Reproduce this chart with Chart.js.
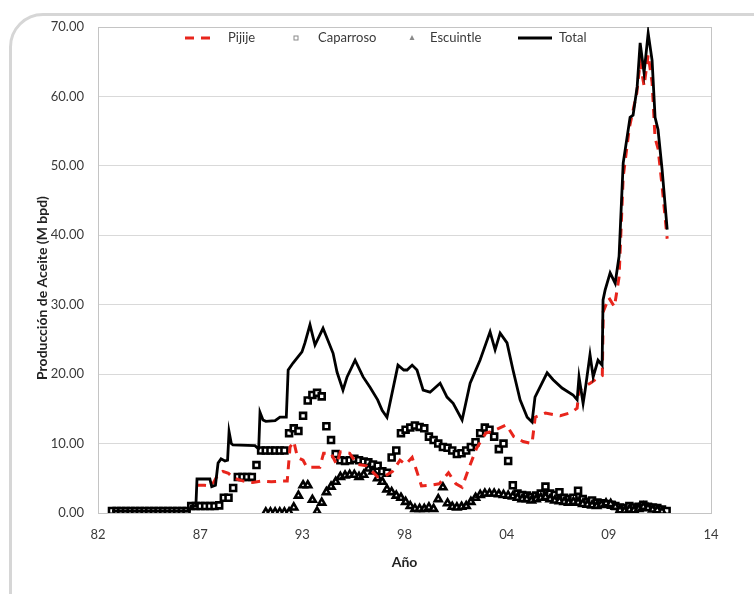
<!DOCTYPE html>
<html>
<head>
<meta charset="utf-8">
<script src="https://cdn.jsdelivr.net/npm/chart.js@4.4.1/dist/chart.umd.min.js"></script>
<style>
  html, body { margin: 0; padding: 0; background: #fff; overflow: hidden; }
  #wrap { position: relative; width: 754px; height: 594px; overflow: hidden; }
  #frame { position: absolute; left: 9px; top: 13px; width: 800px; height: 700px;
           border: 3px solid #d6d6d6; border-radius: 34px; box-sizing: border-box; }
  canvas { position: absolute; left: 0; top: 0; }
</style>
</head>
<body>
<div id="wrap">
  <div id="frame"></div>
  <canvas id="c" width="754" height="594"></canvas>
</div>
<script>
// Axis labels (two-digit years) and the decimal-year span of the x axis
const tickLabels = ['82', '87', '93', '98', '04', '09', '14'];
const axisStart = 1982.0;
const axisEnd = 2014.88;
const yTickMax = 70;

// Total field production (M bpd)
const totalYears = [
  1982.75, 1986.9, 1987.0, 1987.25, 1987.31, 1988.0, 1988.1, 1988.3, 1988.44, 1988.6,
  1988.81, 1988.95, 1989.03, 1989.15, 1989.24, 1990.42, 1990.58, 1990.62, 1990.69, 1990.85,
  1991.0, 1991.5, 1991.76, 1992.1, 1992.2, 1992.46, 1992.94, 1993.1, 1993.37, 1993.64,
  1994.07, 1994.61, 1994.82, 1995.14, 1995.36, 1995.79, 1996.22, 1996.59, 1997.0, 1997.24,
  1997.5, 1998.09, 1998.4, 1998.58, 1998.85, 1999.11, 1999.44, 1999.81, 2000.35, 2000.72,
  2001.05, 2001.53, 2001.96, 2002.49, 2003.03, 2003.3, 2003.57, 2003.94, 2004.26, 2004.64,
  2005.02, 2005.28, 2005.44, 2006.09, 2006.41, 2006.89, 2007.48, 2007.7, 2007.8, 2008.02,
  2008.13, 2008.39, 2008.56, 2008.82, 2009.04, 2009.09, 2009.2, 2009.47, 2009.74, 2009.95,
  2010.17, 2010.54, 2010.7, 2010.92, 2011.08, 2011.29, 2011.51, 2011.72, 2011.88, 2012.04,
  2012.26, 2012.53
];
const totalValues = [
  0.3, 0.3, 1.0, 1.0, 4.9, 4.9, 3.8, 4.0, 7.2, 7.8,
  7.5, 7.6, 11.7, 10.0, 9.8, 9.7, 9.3, 9.3, 14.5, 13.4,
  13.2, 13.3, 13.8, 13.8, 20.6, 21.6, 23.2, 24.5, 27.1, 24.2,
  26.6, 23.0, 20.3, 17.7, 19.6, 22.0, 19.6, 18.1, 16.3, 14.8,
  13.8, 21.3, 20.6, 20.6, 21.3, 20.6, 17.7, 17.4, 18.7, 16.7,
  15.8, 13.4, 18.7, 22.0, 26.1, 23.5, 25.9, 24.5, 20.6, 16.3,
  13.8, 13.1, 16.7, 20.2, 19.2, 18.0, 17.0, 16.3, 19.6, 15.8,
  17.7, 22.8, 19.6, 22.0, 21.3, 30.7, 32.1, 34.6, 33.1, 37.0,
  50.4, 57.0, 57.3, 61.4, 67.7, 63.4, 69.1, 65.2, 57.0, 55.2,
  49.4, 40.8
];

// Pijije field production (M bpd)
const pijijeYears = [
  1987.31, 1987.7, 1988.0, 1988.2, 1988.45, 1988.7, 1989.0, 1989.3, 1989.8, 1990.3,
  1990.8, 1991.3, 1991.8, 1992.15, 1992.3, 1992.5, 1992.7, 1993.0, 1993.2, 1993.9,
  1994.1, 1994.5, 1994.8, 1995.0, 1995.5, 1995.9, 1996.4, 1997.0, 1997.5, 1997.8,
  1998.2, 1998.5, 1998.85, 1999.1, 1999.35, 1999.8, 2000.3, 2000.8, 2001.2, 2001.53,
  2001.9, 2002.3, 2002.8, 2003.2, 2003.9, 2004.3, 2004.8, 2005.28, 2005.45, 2006.0,
  2006.8, 2007.4, 2007.7, 2007.8, 2008.4, 2008.9, 2009.05, 2009.1, 2009.4, 2009.7,
  2009.95, 2010.17, 2010.5, 2010.9, 2011.08, 2011.29, 2011.51, 2011.72, 2011.88, 2012.04,
  2012.26, 2012.53
];
const pijijeValues = [
  4.0, 4.0, 3.9, 4.4, 5.6, 6.0, 5.7, 5.0, 4.6, 4.4,
  4.6, 4.5, 4.6, 4.6, 9.5, 10.3, 8.0, 7.6, 6.6, 6.6,
  8.6, 8.6, 7.0, 8.8, 8.6, 7.0, 6.8, 5.2, 5.5, 6.0,
  7.6, 7.0, 8.0, 6.0, 3.9, 4.0, 4.2, 5.8, 4.2, 3.7,
  6.5, 9.3, 11.5, 11.8, 12.7, 11.0, 10.3, 10.0, 13.8, 14.4,
  14.0, 14.5, 15.1, 17.7, 18.7, 19.6, 19.8, 29.0, 31.0, 29.7,
  34.0, 48.4, 55.5, 60.5, 65.0, 61.5, 66.0, 62.0, 54.0, 52.5,
  47.0, 39.5
];

// Quarterly readings for the marker series, first quarter 1982.75
const firstQuarter = 1982.75;
const quarterStep = 0.25;

// Caparroso field production (M bpd), one row per year
const caparrosoValues = [
  0.3,                      // 1982
  0.3, 0.3, 0.3, 0.3,       // 1983
  0.3, 0.3, 0.3, 0.3,       // 1984
  0.3, 0.3, 0.3, 0.3,       // 1985
  0.3, 0.3, 0.3, 0.3,       // 1986
  1.0, 1.0, 1.0, 1.0,       // 1987
  1.0, 1.0, 1.1, 2.2,       // 1988
  2.2, 3.6, 5.2, 5.2,       // 1989
  5.2, 5.2, 6.9, 9.0,       // 1990
  9.0, 9.0, 9.0, 9.0,       // 1991
  9.0, 11.5, 12.2, 11.8,    // 1992
  14.0, 16.2, 17.0, 17.3,   // 1993
  16.8, 12.5, 10.5, 8.5,    // 1994
  7.6, 7.5, 7.6, 7.8,       // 1995
  7.6, 7.4, 7.3, 7.0,       // 1996
  6.8, 6.0, 5.8, 8.0,       // 1997
  9.0, 11.5, 12.0, 12.3,    // 1998
  12.6, 12.4, 12.2, 11.0,   // 1999
  10.5, 10.0, 9.5, 9.4,     // 2000
  9.0, 8.5, 8.6, 9.0,       // 2001
  9.5, 10.2, 11.5, 12.3,    // 2002
  12.0, 11.0, 9.2, 10.0,    // 2003
  7.5, 4.0, 2.8, 2.6,       // 2004
  2.5, 2.3, 2.5, 2.8,       // 2005
  3.8, 2.8, 2.6, 3.0,       // 2006
  2.2, 2.0, 2.2, 3.2,       // 2007
  2.0, 1.6, 1.8, 1.5,       // 2008
  1.4, 1.3, 1.2, 1.0,       // 2009
  0.8, 0.7, 1.0, 0.8,       // 2010
  0.9, 1.2, 0.9, 0.8,       // 2011
  0.7, 0.5, 0.3             // 2012
];

// Escuintle field production (M bpd), one row per year
const escuintleValues = [
  null,                     // 1982
  null, null, null, null,   // 1983
  null, null, null, null,   // 1984
  null, null, null, null,   // 1985
  null, null, null, null,   // 1986
  null, null, null, null,   // 1987
  null, null, null, null,   // 1988
  null, null, null, null,   // 1989
  null, null, null, null,   // 1990
  0.1, 0.1, 0.1, 0.1,       // 1991
  0.1, 0.1, 0.8, 2.5,       // 1992
  4.0, 4.0, 1.9, 0.2,       // 1993
  1.5, 3.0, 3.8, 4.5,       // 1994
  5.2, 5.4, 5.5, 5.5,       // 1995
  5.2, 5.5, 6.4, 6.0,       // 1996
  5.0, 4.5, 3.4, 3.0,       // 1997
  2.5, 2.2, 1.6, 1.0,       // 1998
  0.6, 0.6, 0.6, 0.8,       // 1999
  0.6, 2.0, 3.7, 1.4,       // 2000
  0.9, 0.8, 0.9, 1.0,       // 2001
  1.6, 2.2, 2.6, 2.8,       // 2002
  2.8, 2.8, 2.7, 2.6,       // 2003
  2.5, 2.4, 2.2, 2.0,       // 2004
  2.0, 1.8, 2.0, 2.2,       // 2005
  2.3, 2.0, 1.8, 1.7,       // 2006
  1.6, 1.5, 1.6, 1.5,       // 2007
  1.3, 1.2, 1.1, 1.0,       // 2008
  1.2, 1.4, 1.3, 0.9,       // 2009
  0.4, 0.3, 0.5, 0.4,       // 2010
  0.6, 0.9, 0.7, 0.5,       // 2011
  0.4, 0.2, null            // 2012
];

const legendNames = ['Pijije', 'Caparroso', 'Escuintle', 'Total'];
const yTitle = 'Producción de Aceite (M bpd)';
const xTitle = 'Año';

const quarterYears = caparrosoValues.map((_, i) => firstQuarter + i * quarterStep);
const toPoints = (xs, ys) => xs.map((x, i) => ({ x: x, y: ys[i] }));

const FONT = 'Lato, "Open Sans", sans-serif';
const TEXT = '#3a3a3a';

// Legend drawn inside the top of the plot area: [symbol start, symbol end, text start]
const legendSlots = [[185, 215, 228], [286, 306, 318], [402, 422, 430], [518, 552, 559]];
const insideLegend = {
  id: 'insideLegend',
  afterDraw(chart) {
    const ctx = chart.ctx;
    const y = chart.chartArea.top + 11;
    ctx.save();
    ctx.font = '13px ' + FONT;
    ctx.textBaseline = 'middle';
    legendNames.forEach((name, k) => {
      const ds = chart.data.datasets.find(d => d.label === name);
      const [s0, s1, tx] = legendSlots[k];
      if (ds.showLine === false) {
        const cx = (s0 + s1) / 2;
        ctx.strokeStyle = '#8a8a8a';
        ctx.lineWidth = 1;
        ctx.setLineDash([]);
        if (ds.pointStyle === 'rect') {
          ctx.fillStyle = '#fff';
          ctx.fillRect(cx - 2, y - 2, 4, 4);
          ctx.strokeRect(cx - 2, y - 2, 4, 4);
        } else {
          ctx.beginPath();
          ctx.moveTo(cx, y - 3);
          ctx.lineTo(cx + 2.5, y + 2);
          ctx.lineTo(cx - 2.5, y + 2);
          ctx.closePath();
          ctx.fillStyle = '#8a8a8a';
          ctx.fill();
        }
      } else {
        ctx.strokeStyle = ds.borderColor;
        ctx.lineWidth = ds.borderWidth;
        ctx.setLineDash(ds.borderDash || []);
        ctx.beginPath();
        ctx.moveTo(s0, y);
        ctx.lineTo(s1, y);
        ctx.stroke();
        ctx.setLineDash([]);
      }
      ctx.fillStyle = TEXT;
      ctx.fillText(name, tx, y);
    });
    ctx.restore();
  }
};

// Box around the plot area and the rotated value-axis title
const plotBox = {
  id: 'plotBox',
  beforeDatasetsDraw(chart) {
    const a = chart.chartArea;
    const ctx = chart.ctx;
    ctx.save();
    ctx.strokeStyle = '#c4c4c4';
    ctx.lineWidth = 1;
    ctx.strokeRect(Math.round(a.left) + 0.5, Math.round(a.top) + 0.5,
                   Math.round(a.right - a.left), Math.round(a.bottom - a.top));
    ctx.restore();
  },
  afterDraw(chart) {
    const ctx = chart.ctx;
    ctx.save();
    ctx.translate(42, 288);
    ctx.rotate(-Math.PI / 2);
    ctx.font = 'bold 14px ' + FONT;
    ctx.fillStyle = '#222';
    ctx.textAlign = 'center';
    ctx.textBaseline = 'middle';
    ctx.fillText(yTitle, 0, 0);
    ctx.restore();
  }
};

new Chart(document.getElementById('c'), {
  type: 'line',
  data: {
    datasets: [
      { label: 'Total', data: toPoints(totalYears, totalValues),
        borderColor: '#000', borderWidth: 2.8, pointRadius: 0, tension: 0, order: 0 },
      { label: 'Pijije', data: toPoints(pijijeYears, pijijeValues),
        borderColor: '#e8251c', borderWidth: 3, borderDash: [9, 7], pointRadius: 0, tension: 0, order: 1 },
      { label: 'Escuintle', data: toPoints(quarterYears, escuintleValues),
        showLine: false, pointStyle: 'triangle', pointRadius: 4,
        borderColor: '#000', backgroundColor: '#fff', borderWidth: 2.6, order: 2 },
      { label: 'Caparroso', data: toPoints(quarterYears, caparrosoValues),
        showLine: false, pointStyle: 'rect', pointRadius: 4.2,
        borderColor: '#000', backgroundColor: '#fff', borderWidth: 2.6, order: 3 }
    ]
  },
  options: {
    responsive: false,
    animation: false,
    layout: { padding: { left: 0, top: 27, right: 43, bottom: 21 } },
    plugins: { legend: { display: false }, tooltip: { enabled: false } },
    elements: { point: { hoverRadius: 0 } },
    scales: {
      x: {
        type: 'linear',
        min: axisStart,
        max: axisEnd,
        afterBuildTicks(scale) {
          const span = (axisEnd - axisStart) / (tickLabels.length - 1);
          scale.ticks = tickLabels.map((_, i) => ({ value: axisStart + i * span }));
        },
        afterFit(scale) { scale.height = 60; },
        grid: { display: false, drawTicks: false },
        border: { display: true, color: '#c4c4c4' },
        ticks: {
          padding: 14,
          color: TEXT,
          font: { family: FONT, size: 13 },
          maxRotation: 0,
          autoSkip: false,
          callback: (v, i) => tickLabels[i]
        },
        title: {
          display: true, text: xTitle, color: '#222',
          font: { family: FONT, size: 14, weight: 'bold' },
          padding: { top: 0, bottom: 2 }
        }
      },
      y: {
        min: 0,
        max: yTickMax,
        afterFit(scale) { scale.width = 98; },
        ticks: {
          stepSize: 10,
          padding: 14,
          color: TEXT,
          font: { family: FONT, size: 13 },
          callback: v => v.toFixed(2)
        },
        grid: { color: '#d9d9d9', lineWidth: 1, drawTicks: false },
        border: { display: true, color: '#c4c4c4' }
      }
    }
  },
  plugins: [plotBox, insideLegend]
});
</script>
</body>
</html>
